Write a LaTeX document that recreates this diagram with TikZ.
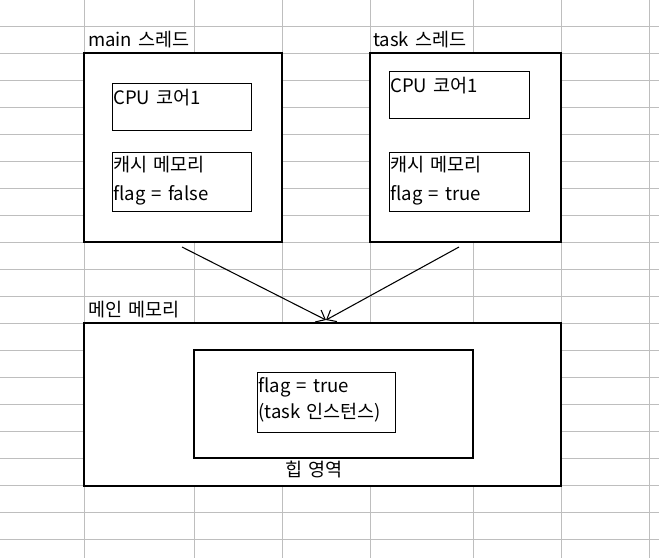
\documentclass[tikz,border=0pt]{standalone}
\usepackage{fontspec}
\setmainfont[WordSpace=1.5]{Noto Sans CJK KR}
\usetikzlibrary{arrows.meta,fit}
\definecolor{gridc}{RGB}{190,190,190}
\begin{document}
\begin{tikzpicture}[x=0.75pt,y=-0.75pt,
 gridline/.style={gridc, line width=0.75pt},
 thickbox/.style={draw=black, line width=1.8pt, fill=white, inner sep=0pt},
 thinbox/.style={draw=black, line width=0.75pt, fill=white, inner sep=0pt},
 lbl/.style={anchor=base west, inner sep=0pt, font=\fontsize{13.9}{16}\selectfont},
 arr/.style={line width=0.8pt, -{Straight Barb[length=6pt,width=10pt]}}]
\useasboundingbox (0,0) rectangle (659,558);
\fill[white] (0,0) rectangle (659,558);
\foreach \x in {84,194,282,370,473,561,649} \draw[gridline] (\x,0) -- (\x,558);
\foreach \k in {0,...,19} \draw[gridline] (0,26+27*\k) -- (659,26+27*\k);
% boxes
\node[thickbox, fit={(84,53) (282,242)}] (mainT) {};
\node[thinbox, fit={(112,83) (251,130)}] (mainCPU) {};
\node[thinbox, fit={(112,152) (251,211)}] (mainCache) {};
\node[thickbox, fit={(370,53) (561,242)}] (taskT) {};
\node[thinbox, fit={(389,71) (529,118)}] (taskCPU) {};
\node[thinbox, fit={(389,152) (529,211)}] (taskCache) {};
\node[thickbox, fit={(84,323) (561,486)}] (mem) {};
\node[thickbox, fit={(194,350) (473,458)}] (heap) {};
\node[thinbox, fit={(257,372) (395,432)}] (inst) {};
% labels
\node[lbl] (mainTL) at (88,46.5) {main 스레드};
\node[lbl] (mainCPUL) at (113,104) {CPU 코어1};
\node[lbl] (mainCacheL) at (113,171) {캐시 메모리};
\node[lbl] (mainFlag) at (113,200) {flag = false};
\node[lbl] (taskTL) at (373,46.5) {task 스레드};
\node[lbl] (taskCPUL) at (390,92) {CPU 코어1};
\node[lbl] (taskCacheL) at (390,171) {캐시 메모리};
\node[lbl] (taskFlag) at (390,200) {flag = true};
\node[lbl] (memL) at (88,316) {메인 메모리};
\node[lbl] (instFlag) at (258,392) {flag = true};
\node[lbl] (instName) at (258,418) {(task 인스턴스)};
\node[lbl] (heapL) at (285,476) {힙 영역};
% arrows
\coordinate (s1) at (182,247);
\coordinate (s2) at (459,247);
\coordinate (tip) at (326,320);
\draw[arr] (s1) -- (tip);
\draw[arr] (s2) -- (tip);
\end{tikzpicture}
\end{document}
